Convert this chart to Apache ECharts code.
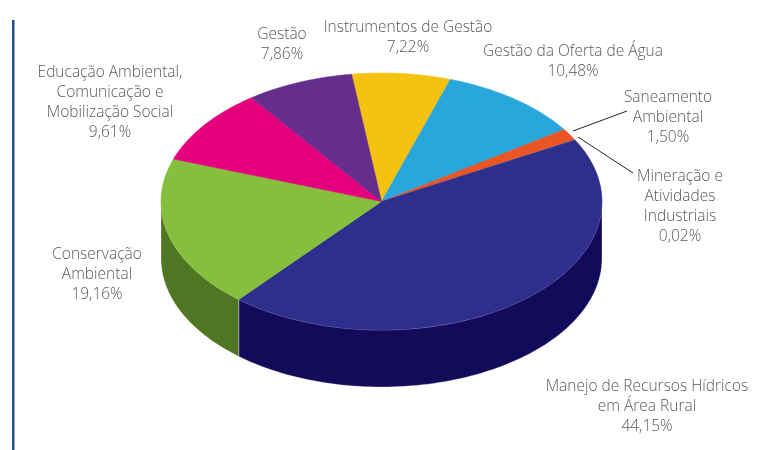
<!DOCTYPE html>
<html><head><meta charset="utf-8">
<script src="https://cdn.jsdelivr.net/npm/echarts@6/dist/echarts.min.js"></script>
<style>html,body{margin:0;padding:0;background:#fff}#c{width:759px;height:450px}</style>
</head><body><div id="c"></div>
<script>
// ---- data ----
var names = ['Instrumentos de Gestão', 'Gestão da Oferta de Água', 'Saneamento Ambiental',
  'Mineração e Atividades Industriais', 'Manejo de Recursos Hídricos em Área Rural',
  'Conservação Ambiental', 'Educação Ambiental, Comunicação e Mobilização Social', 'Gestão'];
var labelLines = [
  ['Instrumentos de Gestão'], ['Gestão da Oferta de Água'], ['Saneamento', 'Ambiental'],
  ['Mineração e', 'Atividades', 'Industriais'], ['Manejo de Recursos Hídricos', 'em Área Rural'],
  ['Conservação', 'Ambiental'], ['Educação Ambiental,', 'Comunicação e', 'Mobilização Social'], ['Gestão']];
var values = [7.22, 10.48, 1.50, 0.02, 44.15, 19.16, 9.61, 7.86];

// ---- styles / layout ----
var topColors = ['#f5c20f', '#27a7dc', '#e95525', '#8a8a8a', '#2e2f8c', '#86be3e', '#e5007e', '#652d8c'];
var sideColors = ['#a8840a', '#1a7398', '#a33a18', '#555555', '#130a5a', '#507623', '#9c0056', '#42195e'];
var labelPos = [[408, 38], [573, 62], [668, 118], [680, 207], [647, 407], [97, 275], [110, 103], [282, 45]];
var leaders = {2: [[573, 131], [627, 111]], 3: [[578, 137], [633, 173]]};
var CX = 381.5, CY = 201.5, RX = 220.5, RY = 128.5, DEPTH = 57, START = -97.8;

function fmt(v) { return v.toFixed(2).replace('.', ','); }
var total = values.reduce(function (a, b) { return a + b; }, 0);
function angles(i) {
  var s = START;
  for (var k = 0; k < i; k++) s += values[k] / total * 360;
  return [s, s + values[i] / total * 360];
}
function pt(deg, dy) {
  var r = deg * Math.PI / 180;
  return [CX + RX * Math.cos(r), CY + RY * Math.sin(r) + (dy || 0)];
}
function arc(a, b, dy) {
  var pts = [], n = Math.max(2, Math.ceil(Math.abs(b - a) / 1.5));
  for (var j = 0; j <= n; j++) pts.push(pt(a + (b - a) * j / n, dy));
  return pts;
}

var chart = echarts.init(document.getElementById('c'), null, {renderer: 'canvas'});
chart.setOption({
  animation: false,
  graphic: [{type: 'rect', shape: {x: 12, y: 20, width: 2.5, height: 430}, style: {fill: '#1d4f80'}}],
  series: [{
    type: 'custom',
    coordinateSystem: 'none',
    data: values.map(function (v, i) { return [i, v]; }),
    renderItem: function (params, api) {
      var i = params.dataIndex;
      var ab = angles(i), a = ab[0], b = ab[1];
      var children = [];
      [-360, 0, 360].forEach(function (off) {
        var s = Math.max(a + off, 0), e = Math.min(b + off, 180);
        if (e > s) {
          var top = arc(s, e, 0), bot = arc(s, e, DEPTH).reverse();
          children.push({type: 'polygon', z2: 1, shape: {points: top.concat(bot)},
            style: {fill: sideColors[i], stroke: 'rgba(255,255,255,0.5)', lineWidth: 0.6}});
        }
      });
      var pts = [[CX, CY]].concat(arc(a, b, 0));
      children.push({type: 'polygon', z2: 10, shape: {points: pts},
        style: {fill: topColors[i], stroke: topColors[i], lineWidth: 0.5}});
      var txt = labelLines[i].concat([fmt(values[i]) + '%']).join('\n');
      children.push({type: 'text', z2: 20, x: labelPos[i][0], y: labelPos[i][1],
        style: {text: txt, fill: '#5a5a5a', font: '300 15.5px "Open Sans"', lineHeight: 20,
          align: 'center', verticalAlign: 'middle'}});
      if (leaders[i]) {
        children.push({type: 'polyline', z2: 20, shape: {points: leaders[i]},
          style: {stroke: '#222', lineWidth: 1, fill: null}});
      }
      return {type: 'group', children: children};
    }
  }]
});
</script></body></html>
